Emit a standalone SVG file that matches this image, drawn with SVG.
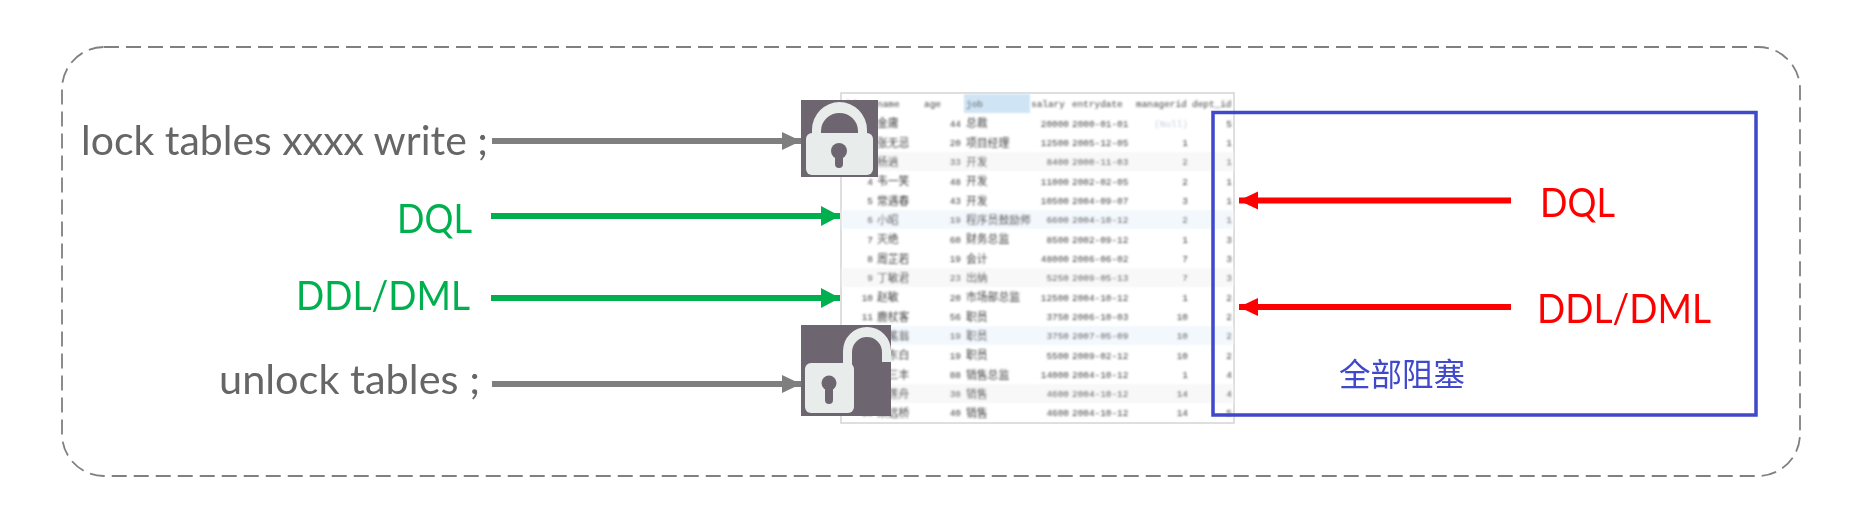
<svg xmlns="http://www.w3.org/2000/svg" width="1858" height="511" viewBox="0 0 1858 511">
<style>
text{font-family:"Lato","Open Sans","Noto Sans CJK SC",sans-serif}
.big{font-size:40px}
.lc{font-size:41px}
.gray{fill:#666666}.green{fill:#00B050}.red{fill:#FF0000}
.c{font-family:"Liberation Mono","Noto Sans CJK SC",monospace;font-size:9.400px;fill:#444}
.z{font-family:"Noto Sans CJK SC","Liberation Mono",sans-serif;font-size:10.800px;fill:#444}
.r{text-anchor:end}
.lk{fill:#6D6570}.lt{fill:#E8ECEA}
.cg{stroke:#7F7F7F;stroke-width:6;fill:none}
.cn{stroke:#00B050;stroke-width:6;fill:none}
.cr{stroke:#FF0000;stroke-width:6;fill:none}
</style>
<defs>
<filter id="b1" x="-5%" y="-5%" width="110%" height="110%"><feGaussianBlur stdDeviation="0.8"/></filter>
<filter id="b2" x="-5%" y="-5%" width="110%" height="110%"><feGaussianBlur stdDeviation="0.5"/></filter>
<marker id="ag" markerUnits="userSpaceOnUse" markerWidth="20" markerHeight="20" refX="19" refY="10" orient="auto"><path d="M0 1L19 10L0 19Z" fill="#7F7F7F"/></marker>
<marker id="an" markerUnits="userSpaceOnUse" markerWidth="20" markerHeight="20" refX="19" refY="10" orient="auto"><path d="M0 0L19 10L0 20Z" fill="#00B050"/></marker>
<marker id="ar" markerUnits="userSpaceOnUse" markerWidth="20" markerHeight="20" refX="19" refY="10" orient="auto"><path d="M0 1L19 10L0 19Z" fill="#FF0000"/></marker>
</defs>
<rect width="1858" height="511" fill="#fff"/>
<rect id="frame" x="62" y="47" width="1738" height="429" rx="42" fill="none" stroke="#808080" stroke-width="1.8" stroke-dasharray="15 7" filter="url(#b2)"/>
<rect x="841" y="93" width="393" height="330" fill="#fff" stroke="#d4d4d4" stroke-width="1.5" filter="url(#b2)"/>
<g id="table" filter="url(#b1)">
<rect x="964" y="94" width="66" height="19" fill="#CFE4F5"/>
<rect x="842" y="152" width="391" height="19" fill="#f8f8f8"/>
<rect x="842" y="210" width="391" height="19" fill="#f3f8fd"/>
<rect x="842" y="268" width="391" height="19" fill="#f8f8f8"/>
<rect x="842" y="326" width="391" height="19" fill="#f3f8fd"/>
<rect x="842" y="384" width="391" height="19" fill="#f8f8f8"/>
<g class="h">
<text class="c" x="845" y="107">id</text><text class="c" x="877" y="107">name</text><text class="c" x="924" y="107">age</text><text class="c" x="966" y="107">job</text><text class="c" x="1031" y="107">salary</text><text class="c" x="1072" y="107">entrydate</text><text class="c" x="1136" y="107">managerid</text><text class="c" x="1192" y="107">dept_id</text>
</g>
<g>
<text class="c r" x="873" y="126.5">1</text><text class="z" x="877" y="127">金庸</text><text class="c r" x="961" y="126.5">44</text><text class="z" x="966" y="127">总裁</text><text class="c r" x="1069" y="126.5">20000</text><text class="c" x="1072" y="126.5">2000-01-01</text><text class="c r" x="1188" y="126.5" style="fill:#c8cfe0">(Null)</text><text class="c r" x="1232" y="126.5">5</text>
<text class="c r" x="873" y="146">2</text><text class="z" x="877" y="146.500">张无忌</text><text class="c r" x="961" y="146">20</text><text class="z" x="966" y="146.500">项目经理</text><text class="c r" x="1069" y="146">12500</text><text class="c" x="1072" y="146">2005-12-05</text><text class="c r" x="1188" y="146">1</text><text class="c r" x="1232" y="146">1</text>
<text class="c r" x="873" y="165">3</text><text class="z" x="877" y="165.500">杨逍</text><text class="c r" x="961" y="165">33</text><text class="z" x="966" y="165.500">开发</text><text class="c r" x="1069" y="165">8400</text><text class="c" x="1072" y="165">2000-11-03</text><text class="c r" x="1188" y="165">2</text><text class="c r" x="1232" y="165">1</text>
<text class="c r" x="873" y="184.500">4</text><text class="z" x="877" y="185">韦一笑</text><text class="c r" x="961" y="184.500">48</text><text class="z" x="966" y="185">开发</text><text class="c r" x="1069" y="184.500">11000</text><text class="c" x="1072" y="184.500">2002-02-05</text><text class="c r" x="1188" y="184.500">2</text><text class="c r" x="1232" y="184.500">1</text>
<text class="c r" x="873" y="204">5</text><text class="z" x="877" y="204.500">常遇春</text><text class="c r" x="961" y="204">43</text><text class="z" x="966" y="204.500">开发</text><text class="c r" x="1069" y="204">10500</text><text class="c" x="1072" y="204">2004-09-07</text><text class="c r" x="1188" y="204">3</text><text class="c r" x="1232" y="204">1</text>
<text class="c r" x="873" y="223">6</text><text class="z" x="877" y="223.500">小昭</text><text class="c r" x="961" y="223">19</text><text class="z" x="966" y="223.500">程序员鼓励师</text><text class="c r" x="1069" y="223">6600</text><text class="c" x="1072" y="223">2004-10-12</text><text class="c r" x="1188" y="223">2</text><text class="c r" x="1232" y="223">1</text>
<text class="c r" x="873" y="242.500">7</text><text class="z" x="877" y="243">灭绝</text><text class="c r" x="961" y="242.500">60</text><text class="z" x="966" y="243">财务总监</text><text class="c r" x="1069" y="242.500">8500</text><text class="c" x="1072" y="242.500">2002-09-12</text><text class="c r" x="1188" y="242.500">1</text><text class="c r" x="1232" y="242.500">3</text>
<text class="c r" x="873" y="262">8</text><text class="z" x="877" y="262.500">周芷若</text><text class="c r" x="961" y="262">19</text><text class="z" x="966" y="262.500">会计</text><text class="c r" x="1069" y="262">48000</text><text class="c" x="1072" y="262">2006-06-02</text><text class="c r" x="1188" y="262">7</text><text class="c r" x="1232" y="262">3</text>
<text class="c r" x="873" y="281">9</text><text class="z" x="877" y="281.500">丁敏君</text><text class="c r" x="961" y="281">23</text><text class="z" x="966" y="281.500">出纳</text><text class="c r" x="1069" y="281">5250</text><text class="c" x="1072" y="281">2009-05-13</text><text class="c r" x="1188" y="281">7</text><text class="c r" x="1232" y="281">3</text>
<text class="c r" x="873" y="300.500">10</text><text class="z" x="877" y="301">赵敏</text><text class="c r" x="961" y="300.500">20</text><text class="z" x="966" y="301">市场部总监</text><text class="c r" x="1069" y="300.500">12500</text><text class="c" x="1072" y="300.500">2004-10-12</text><text class="c r" x="1188" y="300.500">1</text><text class="c r" x="1232" y="300.500">2</text>
<text class="c r" x="873" y="320">11</text><text class="z" x="877" y="320.500">鹿杖客</text><text class="c r" x="961" y="320">56</text><text class="z" x="966" y="320.500">职员</text><text class="c r" x="1069" y="320">3750</text><text class="c" x="1072" y="320">2006-10-03</text><text class="c r" x="1188" y="320">10</text><text class="c r" x="1232" y="320">2</text>
<text class="c r" x="873" y="339">12</text><text class="z" x="877" y="339.500">鹤笔翁</text><text class="c r" x="961" y="339">19</text><text class="z" x="966" y="339.500">职员</text><text class="c r" x="1069" y="339">3750</text><text class="c" x="1072" y="339">2007-05-09</text><text class="c r" x="1188" y="339">10</text><text class="c r" x="1232" y="339">2</text>
<text class="c r" x="873" y="358.500">13</text><text class="z" x="877" y="359">方东白</text><text class="c r" x="961" y="358.500">19</text><text class="z" x="966" y="359">职员</text><text class="c r" x="1069" y="358.500">5500</text><text class="c" x="1072" y="358.500">2009-02-12</text><text class="c r" x="1188" y="358.500">10</text><text class="c r" x="1232" y="358.500">2</text>
<text class="c r" x="873" y="378">14</text><text class="z" x="877" y="378.500">张三丰</text><text class="c r" x="961" y="378">88</text><text class="z" x="966" y="378.500">销售总监</text><text class="c r" x="1069" y="378">14000</text><text class="c" x="1072" y="378">2004-10-12</text><text class="c r" x="1188" y="378">1</text><text class="c r" x="1232" y="378">4</text>
<text class="c r" x="873" y="397">15</text><text class="z" x="877" y="397.500">俞莲舟</text><text class="c r" x="961" y="397">38</text><text class="z" x="966" y="397.500">销售</text><text class="c r" x="1069" y="397">4600</text><text class="c" x="1072" y="397">2004-10-12</text><text class="c r" x="1188" y="397">14</text><text class="c r" x="1232" y="397">4</text>
<text class="c r" x="873" y="416">16</text><text class="z" x="877" y="416.500">宋远桥</text><text class="c r" x="961" y="416">40</text><text class="z" x="966" y="416.500">销售</text><text class="c r" x="1069" y="416">4600</text><text class="c" x="1072" y="416">2004-10-12</text><text class="c r" x="1188" y="416">14</text><text class="c r" x="1232" y="416">5</text>
</g>
</g>
<g id="connectors" filter="url(#b2)">
<line class="cg" x1="492" y1="141" x2="801" y2="141" marker-end="url(#ag)"/>
<line class="cn" x1="491" y1="216" x2="840" y2="216" marker-end="url(#an)"/>
<line class="cn" x1="491" y1="298" x2="840" y2="298" marker-end="url(#an)"/>
<line class="cg" x1="492" y1="384" x2="801" y2="384" marker-end="url(#ag)"/>
<line class="cr" x1="1511" y1="200.500" x2="1239" y2="200.500" marker-end="url(#ar)"/>
<line class="cr" x1="1511" y1="307" x2="1239" y2="307" marker-end="url(#ar)"/>
</g>
<g id="lock-closed" filter="url(#b2)">
<rect class="lk" x="801" y="100" width="77" height="77"/>
<path class="lt" fill-rule="evenodd" d="M812 136V130A27.500 28 0 0 1 867 130V136H858V131A18.500 18 0 0 0 821 131V136Z"/>
<rect class="lt" x="806" y="133" width="67" height="42" rx="6"/>
<circle class="lk" cx="839" cy="151" r="8"/>
<rect class="lk" x="835" y="151" width="8" height="17" rx="4"/>
</g>
<g id="lock-open" filter="url(#b2)">
<rect class="lk" x="801" y="325" width="90" height="91"/>
<path class="lt" fill-rule="evenodd" d="M843 366V351A24 24 0 0 1 891 351V362H882V352A15 15 0 0 0 852 352V366Z"/>
<rect class="lt" x="805" y="363" width="49" height="50" rx="6"/>
<circle class="lk" cx="829" cy="383" r="7.500"/>
<rect class="lk" x="825" y="383" width="8" height="21" rx="4"/>
</g>
<g id="blocked" filter="url(#b2)">
<rect x="1213" y="112.500" width="543" height="302.500" fill="none" stroke="#3F48CC" stroke-width="3.500"/>
<text x="1339" y="386" style="font-size:31.500px;fill:#3F48CC;font-family:'Noto Sans CJK SC',sans-serif">全部阻塞</text>
</g>
<g id="labels" filter="url(#b2)">
<text id="lock-label" class="lc gray" x="81" y="155" textLength="407" lengthAdjust="spacingAndGlyphs">lock tables xxxx write ;</text>
<text id="dql-left" class="big green" x="397" y="233" textLength="75" lengthAdjust="spacingAndGlyphs">DQL</text>
<text id="ddl-left" class="big green" x="296" y="310" textLength="174" lengthAdjust="spacingAndGlyphs">DDL/DML</text>
<text id="unlock-label" class="lc gray" x="219" y="394" textLength="261" lengthAdjust="spacingAndGlyphs">unlock tables ;</text>
<text id="dql-right" class="big red" x="1540" y="217" textLength="75" lengthAdjust="spacingAndGlyphs">DQL</text>
<text id="ddl-right" class="big red" x="1537" y="323" textLength="174" lengthAdjust="spacingAndGlyphs">DDL/DML</text>
</g>
</svg>
